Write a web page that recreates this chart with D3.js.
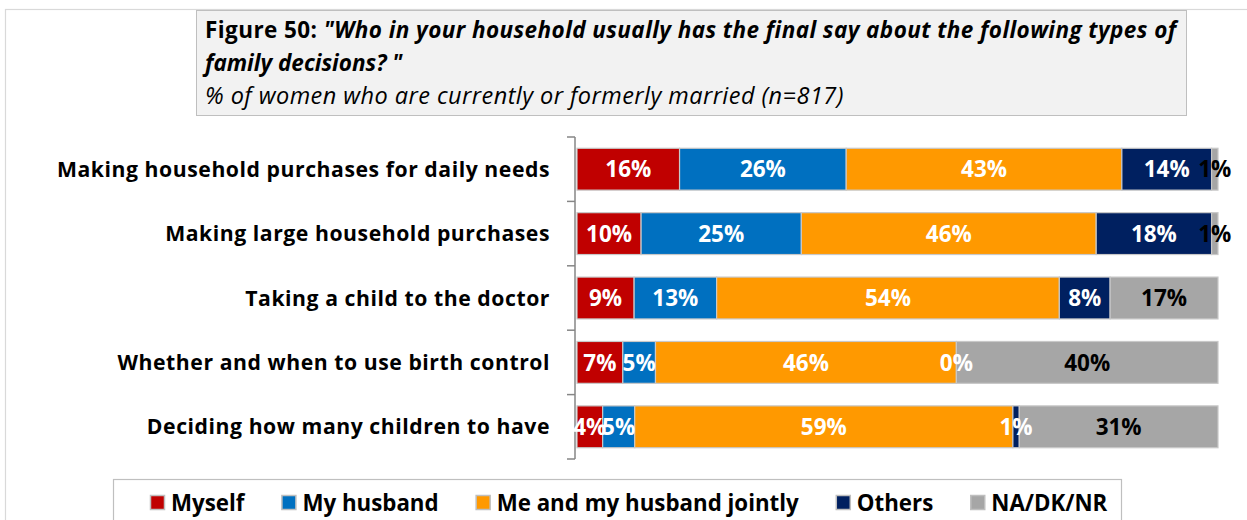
<!DOCTYPE html>
<html>
<head>
<meta charset="utf-8">
<script src="https://cdn.jsdelivr.net/npm/d3@7"></script>
<style>
  html, body { margin: 0; padding: 0; background: #ffffff; }
  svg { display: block; font-family: "Open Sans", Lato, sans-serif; }
</style>
</head>
<body>
<svg id="chart" width="1247" height="520"></svg>
<script>
// Decision categories, top to bottom
const categories = [
  "Making household purchases for daily needs",
  "Making large household purchases",
  "Taking a child to the doctor",
  "Whether and when to use birth control",
  "Deciding how many children to have"
];

// Series names (stack order, left to right)
const seriesNames = ["Myself", "My husband", "Me and my husband jointly", "Others", "NA/DK/NR"];

// Percent of respondents per category, one array per series
const myself   = [16, 10, 9, 7, 4];
const husband  = [26, 25, 13, 5, 5];
const jointly  = [43, 46, 54, 46, 59];
const others   = [14, 18, 8, 0, 1];
const naDkNr   = [1, 1, 17, 40, 31];

const seriesColors = ["#C00000", "#0070C0", "#FF9900", "#002060", "#A6A6A6"];
const labelColors  = ["#ffffff", "#ffffff", "#ffffff", "#ffffff", "#000000"];

const titleLead = "Figure 50: ";
const titleQuote1 = "\"Who in your household usually has the final say about the following types of";
const titleQuote2 = "family decisions? \"";
const subtitle = "% of women who are currently or formerly married (n=817)";

// Build the table for the stack layout
const seriesValues = [myself, husband, jointly, others, naDkNr];
const table = categories.map((c, i) => {
  const row = { category: c };
  seriesNames.forEach((s, k) => { row[s] = seriesValues[k][i]; });
  return row;
});

const svg = d3.select("#chart");

// Outer chart frame
svg.append("rect")
  .attr("x", 5.5).attr("y", 9.5)
  .attr("width", 1300).attr("height", 600)
  .attr("fill", "none").attr("stroke", "#d9d9d9").attr("stroke-width", 1.2);

// Title box
svg.append("rect")
  .attr("x", 196.5).attr("y", 10.5)
  .attr("width", 990).attr("height", 105)
  .attr("fill", "#f2f2f2").attr("stroke", "#bfbfbf").attr("stroke-width", 1);

const titleSize = 22.5;
const t1 = svg.append("text").attr("x", 205).attr("y", 38)
  .attr("font-size", titleSize).attr("font-weight", "bold")
  .attr("letter-spacing", 0.42).attr("fill", "#000");
t1.append("tspan").text(titleLead);
t1.append("tspan").attr("font-style", "italic").text(titleQuote1);

svg.append("text").attr("x", 205).attr("y", 71)
  .attr("font-size", titleSize).attr("font-weight", "bold").attr("font-style", "italic")
  .attr("fill", "#000").text(titleQuote2);

svg.append("text").attr("x", 205).attr("y", 104)
  .attr("font-size", 23.5).attr("font-style", "italic")
  .attr("letter-spacing", 0.45)
  .attr("fill", "#000").text(subtitle);

// Scales
const y = d3.scaleBand()
  .domain(categories)
  .range([137, 459])
  .paddingInner(0.35)
  .paddingOuter(0.175);

const x = d3.scaleLinear().domain([0, 1]).range([577, 1218]);

const color = d3.scaleOrdinal().domain(seriesNames).range(seriesColors);
const labelColor = d3.scaleOrdinal().domain(seriesNames).range(labelColors);

// 100% stacked layout
const stacked = d3.stack()
  .keys(seriesNames)
  .offset(d3.stackOffsetExpand)(table);

// Category axis: line with ticks at band boundaries
const axisX = 575;
const step = y.step();
const boundaries = d3.range(categories.length + 1).map(i => y.range()[0] + i * step);
const axisG = svg.append("g").attr("stroke", "#868686").attr("stroke-width", 1.5);
axisG.append("line")
  .attr("x1", axisX).attr("x2", axisX)
  .attr("y1", boundaries[0]).attr("y2", boundaries[boundaries.length - 1]);
axisG.selectAll("line.tick").data(boundaries).join("line")
  .attr("class", "tick")
  .attr("x1", axisX - 8).attr("x2", axisX)
  .attr("y1", d => d).attr("y2", d => d);

// Category labels
svg.append("g").selectAll("text").data(categories).join("text")
  .attr("x", 550)
  .attr("y", d => y(d) + y.bandwidth() / 2)
  .attr("dy", "0.36em")
  .attr("text-anchor", "end")
  .attr("font-size", 21.2).attr("font-weight", "bold")
  .attr("letter-spacing", 0.55).attr("fill", "#000")
  .text(d => d);

// Bars
const layers = svg.append("g").selectAll("g").data(stacked).join("g")
  .attr("fill", d => color(d.key));

layers.selectAll("rect").data(d => d).join("rect")
  .attr("x", d => x(d[0]))
  .attr("y", d => y(d.data.category))
  .attr("width", d => Math.max(0, x(d[1]) - x(d[0])))
  .attr("height", y.bandwidth())
  .attr("stroke", "#c8c8c8")
  .attr("stroke-width", 1.2);

// Value labels
const labels = svg.append("g");
stacked.forEach(layer => {
  labels.selectAll(null).data(layer).join("text")
    .attr("x", d => x((d[0] + d[1]) / 2))
    .attr("y", d => y(d.data.category) + y.bandwidth() / 2)
    .attr("dy", "0.36em")
    .attr("text-anchor", "middle")
    .attr("font-size", 22.5).attr("font-weight", "bold")
    .attr("fill", labelColor(layer.key))
    .text(d => d.data[layer.key] + "%");
});

// Legend box
svg.append("rect")
  .attr("x", 113.5).attr("y", 479.5)
  .attr("width", 1008).attr("height", 80)
  .attr("fill", "#fff").attr("stroke", "#bfbfbf").attr("stroke-width", 1.2);

const legend = svg.append("g");
let lx = 150;
seriesNames.forEach(name => {
  legend.append("rect")
    .attr("x", lx + 0.5).attr("y", 495.5)
    .attr("width", 14).attr("height", 14)
    .attr("fill", color(name)).attr("stroke", "#bfbfbf").attr("stroke-width", 1.5);
  const t = legend.append("text")
    .attr("x", lx + 21).attr("y", 511)
    .attr("font-size", 22.3).attr("font-weight", "bold").attr("fill", "#000")
    .text(name);
  lx += 21 + t.node().getComputedTextLength() + 37;
});
</script>
</body>
</html>
